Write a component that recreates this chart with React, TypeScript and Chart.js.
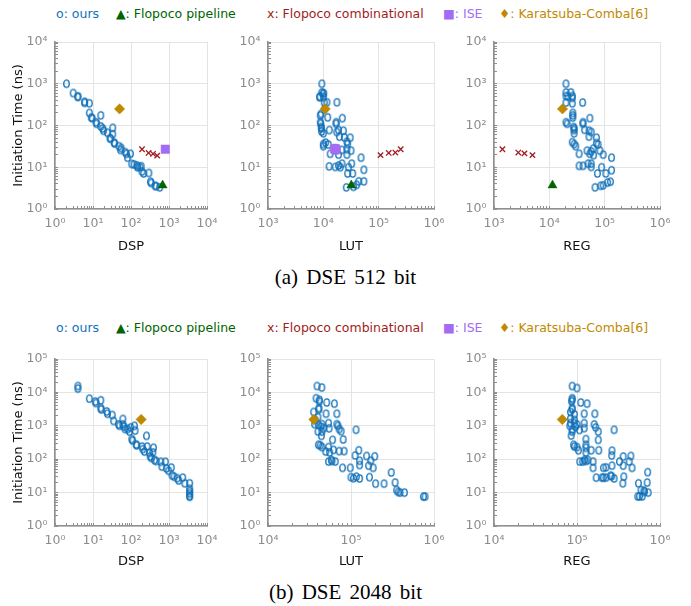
import React, { useEffect, useRef } from 'react';
import { Chart, registerables } from 'chart.js';

Chart.register(...registerables);

type Pt = [number, number];

// ---------- DSE 512 bit ----------
const DSP512_OURS: Pt[] = [
  [2, 1000], [3, 600], [4, 500], [4, 480], [6, 370], [6, 350], [8, 340], [8, 200], [9, 155], [9.5, 150],
  [12, 120], [12.5, 110], [16, 175], [16, 95], [18, 85], [19, 75], [24, 67], [28, 50], [29, 48], [33, 88],
  [33, 62], [36, 39], [37, 37], [48, 32], [53, 26], [55, 29], [70, 23], [76, 21], [81, 17], [97, 21],
  [105, 12], [120, 11.7], [145, 11], [148, 10], [170, 10], [185, 10.6], [195, 7.9], [215, 7.1], [295, 7.3],
  [325, 4.5], [340, 4.2], [430, 3.6], [460, 3.5], [570, 3.3],
];
const DSP512_PIPE: Pt[] = [[680, 3.7]];
const DSP512_COMB: Pt[] = [[195, 27], [290, 22], [380, 21], [490, 19]];
const DSP512_ISE: Pt[] = [[800, 27]];
const DSP512_KC: Pt[] = [[50, 250]];

const LUT512_OURS: Pt[] = [
  [9400, 1000], [9400, 620], [9900, 600], [10200, 580], [8600, 500], [8600, 470], [10000, 480],
  [10400, 355], [11600, 360], [17600, 360], [10600, 250], [9100, 190], [8800, 175], [12000, 157],
  [22000, 150], [8800, 120], [9000, 110], [17000, 120], [17000, 110], [9200, 92], [9200, 85], [9300, 72],
  [12800, 78], [18800, 78], [23000, 75], [17500, 70], [10000, 65], [19500, 54], [24000, 52], [30500, 51],
  [11000, 39], [10000, 36], [10000, 32], [12300, 35], [26700, 41], [27500, 36], [21700, 26], [26700, 27],
  [31700, 25], [13300, 21], [18800, 20], [26700, 20], [48000, 17], [32600, 12.2], [21700, 12.2],
  [18800, 11], [16400, 10.2], [12700, 10.5], [20200, 10], [28500, 10], [54000, 8.7], [27500, 7.1],
  [34000, 7.1], [26000, 3.3], [35000, 3.4], [43500, 4.6], [54000, 4.6], [40000, 3.8],
];
const LUT512_PIPE: Pt[] = [[32000, 3.7]];
const LUT512_COMB: Pt[] = [[108000, 19.5], [152000, 22], [200000, 22.5], [250000, 27]];
const LUT512_ISE: Pt[] = [[16500, 27]];
const LUT512_KC: Pt[] = [[10800, 250]];

const REG512_OURS: Pt[] = [
  [20000, 1000], [20000, 620], [24500, 620], [20000, 510], [21700, 490], [26000, 510], [26000, 460],
  [20000, 355], [26000, 340], [40000, 355], [26500, 200], [26500, 175], [26500, 155], [54000, 150],
  [20000, 120], [21000, 110], [40500, 120], [40500, 110], [27500, 92], [28000, 85], [28000, 78],
  [28000, 65], [43500, 79], [52000, 75], [57000, 70], [52000, 54], [71000, 51], [26000, 40], [28000, 36],
  [30000, 32], [71000, 38], [76000, 35], [62000, 28], [48000, 25], [57000, 24], [82000, 25], [34500, 21],
  [54000, 21], [63000, 19.5], [94000, 20], [133000, 17], [34500, 10.8], [40500, 10.8], [50000, 12.2],
  [57000, 12.2], [57000, 10.2], [88000, 10], [133000, 8.5], [105000, 7.1], [74000, 7.1], [67000, 3.3],
  [85000, 3.6], [94000, 3.7], [113000, 4.3], [127000, 4.5],
];
const REG512_PIPE: Pt[] = [[11400, 3.7]];
const REG512_COMB: Pt[] = [[1420, 27], [2750, 22.5], [3550, 21.5], [4950, 19.5]];
const REG512_KC: Pt[] = [[17300, 250]];

// ---------- DSE 2048 bit ----------
const DSP2048_OURS: Pt[] = [
  [4, 15500], [4, 13000], [8, 6500], [11.5, 5300], [12, 4800], [16, 5800], [16, 3400], [16.5, 3100],
  [23, 2700], [24, 2300], [32, 2100], [35, 1400], [47, 1100], [50, 1000], [61, 1600], [61, 1100],
  [65, 950], [70, 800], [82, 800], [91, 670], [98, 900], [123, 1000], [128, 720], [105, 400], [110, 360],
  [137, 275], [141, 260], [195, 240], [205, 200], [225, 170], [255, 500], [265, 240], [305, 155],
  [320, 122], [340, 110], [390, 220], [375, 160], [415, 94], [460, 88], [610, 84], [650, 60], [800, 84],
  [850, 53], [980, 45], [1150, 56], [1200, 33], [1350, 30], [1650, 27], [1800, 23], [2300, 28],
  [2600, 19], [3500, 19], [3500, 13], [3500, 11], [3500, 9.5], [3500, 8], [3500, 7.5],
];
const DSP2048_KC: Pt[] = [[185, 1550]];

const LUT2048_OURS: Pt[] = [
  [39000, 15500], [44500, 14000], [38000, 6700], [41500, 6000], [41500, 5400], [51000, 5000],
  [63000, 4600], [41000, 3400], [41000, 3100], [35500, 2600], [50000, 2300], [67500, 2300], [40000, 1800],
  [37000, 1500], [36500, 1120], [40500, 1060], [44600, 1120], [53600, 1200], [67500, 1120], [69500, 1000],
  [43500, 940], [47000, 850], [54500, 840], [72000, 800], [76000, 690], [40000, 680], [44600, 670],
  [44000, 500], [60000, 380], [80500, 390], [40500, 270], [42500, 260], [44600, 230], [53600, 230],
  [49700, 170], [61500, 190], [72000, 175], [82500, 175], [55200, 160], [115000, 760], [124000, 185],
  [112000, 130], [154000, 125], [193000, 122], [127000, 90], [127000, 67], [173000, 90], [163000, 64],
  [185000, 55], [53600, 85], [58000, 95], [59000, 88], [64500, 85], [79000, 55], [98000, 55],
  [100000, 29], [107000, 27], [116000, 30], [127000, 26.5], [167000, 29], [198000, 18.5], [250000, 18.5],
  [305000, 40], [340000, 20], [355000, 12], [370000, 10.5], [390000, 10], [440000, 10], [745000, 7.6],
  [780000, 7.6],
];
const LUT2048_KC: Pt[] = [[35700, 1550]];

const REG2048_OURS: Pt[] = [
  [87500, 15500], [100000, 13500], [87500, 6700], [87500, 6000], [86000, 5400], [111000, 5000],
  [132000, 4600], [87500, 3400], [87500, 3100], [83500, 2600], [93000, 2200], [122000, 2300],
  [164000, 2300], [83500, 1650], [93000, 1500], [83500, 1200], [82000, 1000], [92500, 1200],
  [100000, 1100], [122000, 1200], [122000, 850], [161000, 1100], [168000, 900], [180000, 670],
  [280000, 760], [87500, 770], [96000, 930], [107000, 750], [87500, 670], [85000, 510], [128000, 400],
  [180000, 380], [91000, 270], [93000, 240], [100000, 230], [104000, 185], [128000, 270], [128000, 220],
  [128000, 160], [148000, 185], [183000, 185], [264000, 180], [262000, 130], [108000, 85], [117000, 85],
  [123000, 95], [128000, 88], [135000, 95], [156000, 85], [156000, 55], [208000, 55], [223000, 57],
  [264000, 64], [325000, 85], [360000, 120], [360000, 64], [445000, 125], [425000, 85], [460000, 55],
  [170000, 28], [200000, 28], [208000, 28], [223000, 28], [253000, 32], [262000, 31], [280000, 26.5],
  [366000, 30], [357000, 19], [550000, 19], [700000, 20], [710000, 41], [590000, 12], [640000, 11.5],
  [650000, 10.5], [720000, 10], [540000, 7.7], [565000, 7.7], [610000, 7.7],
];
const REG2048_KC: Pt[] = [[66500, 1550]];

// ---------- styles ----------
const BLUE = '#1070b8';
const GREEN = '#006400';
const RED = '#a01c22';
const PURPLE = '#a36cf2';
const GOLD = '#bf8900';
const TICK_GRAY = '#8c8c8c';
const AXIS = '#8f8f8f';
const GRID = '#e4e4e4';
const FONT = 'DejaVu Sans';
const SUP = ['⁰', '¹', '²', '³', '⁴', '⁵', '⁶'];

function isPow10(v: number) {
  const l = Math.log10(v);
  return Math.abs(l - Math.round(l)) < 1e-9;
}

function logTicks(min: number, max: number) {
  const out: { value: number }[] = [];
  const e0 = Math.round(Math.log10(min));
  const e1 = Math.round(Math.log10(max));
  for (let e = e0; e < e1; e++) {
    for (let m = 1; m < 10; m++) out.push({ value: m * Math.pow(10, e) });
  }
  out.push({ value: max });
  return out;
}

function tickLabel(v: any) {
  const n = Number(v);
  if (!isPow10(n)) return '';
  return '10' + SUP[Math.round(Math.log10(n))];
}

let OVAL: HTMLCanvasElement | null = null;
function ovalStyle() {
  if (OVAL) return OVAL;
  const c = document.createElement('canvas');
  c.width = 9;
  c.height = 11;
  const g = c.getContext('2d')!;
  g.strokeStyle = BLUE;
  g.lineWidth = 1.35;
  g.beginPath();
  g.ellipse(4.5, 5.5, 2.75, 3.55, 0, 0, Math.PI * 2);
  g.stroke();
  OVAL = c;
  return c;
}

interface Spec {
  L: number; T: number; R: number; B: number;
  xMin: number; xMax: number; yMin: number; yMax: number;
  xTitle: string; yTitle: boolean; titlePad: number;
  ours: Pt[]; pipe?: Pt[]; comb?: Pt[]; ise?: Pt[]; iseStyle?: string; kc: Pt[];
}

const PT = 14;
const PR = 22;
const XH = 50;

const toXY = (a: Pt[]) => a.map(([x, y]) => ({ x, y }));

function Panel({ s }: { s: Spec }) {
  const ref = useRef<HTMLCanvasElement>(null);
  const YW = s.yTitle ? s.L : 50;
  const cw = YW + (s.R - s.L) + PR;
  const ch = PT + (s.B - s.T) + XH;
  const left = s.L - YW;
  const top = s.T - PT;

  useEffect(() => {
    const datasets: any[] = [];
    if (s.pipe) datasets.push({ label: 'pipe', data: toXY(s.pipe), pointStyle: 'triangle', pointRadius: 5.2, backgroundColor: GREEN, borderColor: GREEN, borderWidth: 0.5 });
    datasets.push({ label: 'kc', data: toXY(s.kc), pointStyle: 'rectRot', pointRadius: 5.2, backgroundColor: GOLD, borderColor: GOLD, borderWidth: 0.5 });
    if (s.ise) datasets.push({ label: 'ise', data: toXY(s.ise), pointStyle: s.iseStyle || 'rect', pointRadius: 6, backgroundColor: PURPLE, borderColor: PURPLE, borderWidth: 0.5 });
    if (s.comb) datasets.push({ label: 'comb', data: toXY(s.comb), pointStyle: 'crossRot', pointRadius: 3.8, backgroundColor: RED, borderColor: RED, borderWidth: 1.3 });
    datasets.push({ label: 'ours', data: toXY(s.ours), pointStyle: ovalStyle(), pointRadius: 4, backgroundColor: BLUE, borderColor: BLUE });

    const axis = (min: number, max: number, horizontal: boolean, title: string, showTitle: boolean) => ({
      type: 'logarithmic',
      position: horizontal ? 'bottom' : 'left',
      min,
      max,
      afterBuildTicks: (sc: any) => { sc.ticks = logTicks(min, max); },
      afterFit: (sc: any) => { if (horizontal) sc.height = XH; else sc.width = YW; },
      grid: {
        color: (c: any) => (c.tick && isPow10(c.tick.value) ? GRID : 'rgba(0,0,0,0)'),
        tickColor: AXIS,
        tickLength: -3,
        lineWidth: 1,
      },
      border: { color: AXIS, width: 1.6 },
      ticks: {
        autoSkip: false,
        maxRotation: 0,
        minRotation: 0,
        padding: horizontal ? 10 : 10.5,
        color: TICK_GRAY,
        font: { family: FONT, size: 12.5 },
        callback: tickLabel,
      },
      title: {
        display: showTitle,
        text: title,
        color: '#111',
        font: { family: FONT, size: 13 },
        padding: horizontal ? { top: 0, bottom: s.titlePad } : { top: 11, bottom: 0 },
      },
    });

    const chart = new Chart(ref.current as HTMLCanvasElement, {
      type: 'scatter',
      data: { datasets },
      options: {
        responsive: false,
        animation: false,
        events: [],
        layout: { padding: { top: PT, right: PR, left: 0, bottom: 0 } },
        plugins: { legend: { display: false }, tooltip: { enabled: false } },
        scales: {
          x: axis(s.xMin, s.xMax, true, s.xTitle, true) as any,
          y: axis(s.yMin, s.yMax, false, 'Initiation Time (ns)', s.yTitle) as any,
        },
      } as any,
    });
    return () => chart.destroy();
  }, []);

  return (
    <canvas
      ref={ref}
      width={cw}
      height={ch}
      style={{ position: 'absolute', left, top, width: cw, height: ch }}
    />
  );
}

const SPECS: Spec[] = [
  { L: 55, T: 38, R: 207, B: 209, xMin: 1, xMax: 1e4, yMin: 1, yMax: 1e4, xTitle: 'DSP', yTitle: true, titlePad: 4.5,
    ours: DSP512_OURS, pipe: DSP512_PIPE, comb: DSP512_COMB, ise: DSP512_ISE, kc: DSP512_KC },
  { L: 268, T: 38, R: 434, B: 209, xMin: 1e3, xMax: 1e6, yMin: 1, yMax: 1e4, xTitle: 'LUT', yTitle: false, titlePad: 4.5,
    ours: LUT512_OURS, pipe: LUT512_PIPE, comb: LUT512_COMB, ise: LUT512_ISE, iseStyle: 'rectRounded', kc: LUT512_KC },
  { L: 494, T: 38, R: 660, B: 209, xMin: 1e3, xMax: 1e6, yMin: 1, yMax: 1e4, xTitle: 'REG', yTitle: false, titlePad: 4.5,
    ours: REG512_OURS, pipe: REG512_PIPE, comb: REG512_COMB, kc: REG512_KC },
  { L: 55, T: 355, R: 207, B: 526, xMin: 1, xMax: 1e4, yMin: 1, yMax: 1e5, xTitle: 'DSP', yTitle: true, titlePad: 6.5,
    ours: DSP2048_OURS, kc: DSP2048_KC },
  { L: 268, T: 355, R: 434, B: 526, xMin: 1e4, xMax: 1e6, yMin: 1, yMax: 1e5, xTitle: 'LUT', yTitle: false, titlePad: 6.5,
    ours: LUT2048_OURS, kc: LUT2048_KC },
  { L: 494, T: 355, R: 660, B: 526, xMin: 1e4, xMax: 1e6, yMin: 1, yMax: 1e5, xTitle: 'REG', yTitle: false, titlePad: 6.5,
    ours: REG2048_OURS, kc: REG2048_KC },
];

const LEGEND_ITEMS: { text: string; color: string; x: number }[] = [
  { text: 'o: ours', color: BLUE, x: 56 },
  { text: '▲: Flopoco pipeline', color: GREEN, x: 116 },
  { text: 'x: Flopoco combinational', color: RED, x: 267 },
  { text: '■: ISE', color: PURPLE, x: 443 },
  { text: '♦: Karatsuba-Comba[6]', color: GOLD, x: 499 },
];

function Legend({ y }: { y: number }) {
  return (
    <>
      {LEGEND_ITEMS.map((it) => (
        <div
          key={it.text}
          style={{
            position: 'absolute', left: it.x, top: y - 8, height: 16, lineHeight: '16px',
            fontFamily: '"DejaVu Sans", sans-serif', fontSize: 12.5, color: it.color, whiteSpace: 'nowrap',
          }}
        >
          {it.text}
        </div>
      ))}
    </>
  );
}

function Caption({ y, text }: { y: number; text: string }) {
  return (
    <div
      style={{
        position: 'absolute', left: 0, width: 691, top: y - 13, height: 26, lineHeight: '26px', textAlign: 'center',
        fontFamily: '"Liberation Serif", "Times New Roman", serif', fontSize: 21, wordSpacing: 3, color: '#000', whiteSpace: 'nowrap',
      }}
    >
      {text}
    </div>
  );
}

export default function App() {
  return (
    <div style={{ position: 'absolute', left: 0, top: 0, width: 691, height: 606, background: '#fff', overflow: 'hidden' }}>
      <Legend y={14} />
      <Legend y={328} />
      {SPECS.map((s, i) => (
        <Panel key={i} s={s} />
      ))}
      <Caption y={277} text="(a) DSE 512 bit" />
      <Caption y={592} text="(b) DSE 2048 bit" />
    </div>
  );
}
